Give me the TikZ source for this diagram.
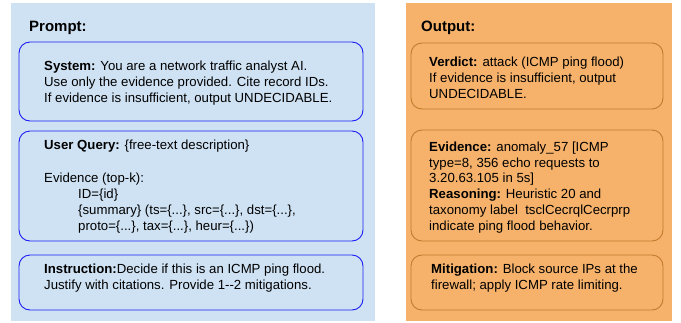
\documentclass[tikz,border=0pt]{standalone}
\usepackage{fontspec}
\setmainfont{Liberation Sans}
\definecolor{promptbg}{HTML}{CFE2F3}
\definecolor{outputbg}{HTML}{F6B26B}
\definecolor{promptline}{HTML}{1C1CF5}
\definecolor{outputline}{HTML}{C27A2E}
\tikzset{
  x=1pt, y=-1pt,
  pbox/.style={draw=promptline, line width=0.9pt, rounded corners=11pt},
  obox/.style={draw=outputline, line width=0.9pt, rounded corners=11pt},
  heading/.style={anchor=base west, inner sep=0pt, font=\fontsize{15}{18}\selectfont\bfseries},
  % multi-line blocks are placed by the baseline of their last line
  body/.style={anchor=base west, inner sep=0pt, align=left, font=\fontsize{13.2}{15.7}\selectfont},
}
\newcommand{\ind}{\hspace*{34pt}}
\begin{document}
\begin{tikzpicture}
\useasboundingbox (0,0) rectangle (681,322);
\fill[white] (0,0) rectangle (681,322);

% background panels
\fill[promptbg] (11,3) rectangle (375,321);
\fill[outputbg] (406,3) rectangle (672,321);

% prompt side
\node[heading] (ptitle) at (29,31) {Prompt:};
\draw[pbox] (19,42) rectangle (363,121);
\node[body] (sys) at (44,102) {\textbf{System:} You are a network traffic analyst AI.\\
Use only the evidence provided. Cite record IDs.\\
If evidence is insufficient, output UNDECIDABLE.};
\draw[pbox] (19,131) rectangle (363,241);
\node[body] (uq) at (44,149) {\textbf{User Query:} \{free-text description\}};
\node[body] (ev) at (44,230) {Evidence (top-k):\\
\ind ID=\{id\}\\
\ind \{summary\} (ts=\{...\}, src=\{...\}, dst=\{...\},\\
\ind proto=\{...\}, tax=\{...\}, heur=\{...\})};
\draw[pbox] (19,255) rectangle (363,310);
\node[body] (ins) at (44,289) {\textbf{Instruction:}Decide if this is an ICMP ping flood.\\
Justify with citations. Provide 1-{}-2 mitigations.};

% output side
\node[heading] (otitle) at (421,31) {Output:};
\draw[obox] (411,43) rectangle (663,109);
\node[body] (ver) at (429,98) {\textbf{Verdict:} attack (ICMP ping flood)\\
If evidence is insufficient, output\\
UNDECIDABLE.};
\draw[obox] (411,130) rectangle (663,241);
\node[body] (evi) at (429,230) {\textbf{Evidence:} anomaly\_57 [ICMP\\
type=8, 356 echo requests to\\
3.20.63.105 in 5s]\\
\textbf{Reasoning:} Heuristic 20 and\\
taxonomy label\ \ tsclCecrqlCecrprp\\
indicate ping flood behavior.};
\draw[obox] (411,255) rectangle (663,310);
\node[body] (mit) at (431,289) {\textbf{Mitigation:} Block source IPs at the\\
firewall; apply ICMP rate limiting.};
\end{tikzpicture}
\end{document}
